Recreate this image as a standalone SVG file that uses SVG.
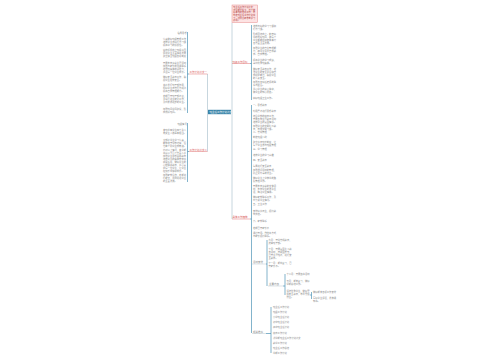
<svg xmlns="http://www.w3.org/2000/svg" width="500" height="360" viewBox="0 0 500 360">
<style>
text{font-family:"Noto Sans CJK SC","Noto Sans",sans-serif;}
.t{font-size:2.3px;fill:#8a8a8a;}
.lb{font-size:2.5px;fill:#d85a5a;}
.sl{font-size:2.5px;fill:#888;}
.ct{font-size:2.5px;fill:#fff;}
.pk{font-size:2.2px;fill:#b03a3a;}
.c{stroke:#b9ccd6;stroke-width:0.8;fill:none;}
.b{stroke:#4d93b6;stroke-width:0.7;fill:none;}
.ur{stroke:#e07070;stroke-width:0.5;}
.ug{stroke:#aab8c0;stroke-width:0.4;}
</style>
<rect width="500" height="360" fill="#fff"/>
<g id="connectors">
<path class="c" d="M208 112 H207.5 V74 M207.5 112 V151.5"/>
<path class="c" d="M231 112 H232 M232 22.5 V219"/>
<path class="b" d="M189 74 H187.5 M187.5 32 V113"/>
<path class="b" d="M189 151.5 H187.5 M187.5 123 V182"/>
<path class="b" d="M250 63.5 H251.5 M251.5 25 V100"/>
<path class="b" d="M250 219 H251.5 M251.5 105 V333"/>
<path class="b" d="M266 264 H267 M267 240 V286"/>
<path class="b" d="M283 286 H285 M285 274 V295"/>
<path class="b" d="M310 295 H311.5 M311.5 292 V299"/>
<path class="b" d="M266 333.5 H271 M271 307 V353"/>
</g>
<g id="central"><rect x="208" y="109.8" width="23" height="4.4" fill="#3a84a8"/><text class="ct" x="209.5" y="112.9">班主任工作计划范文</text></g>
<g id="left1"><text class="lb" x="189.5" y="73.3">工作计划范文一</text><line class="ur" x1="189" y1="74" x2="207.5" y2="74"/></g>
<g id="left2"><text class="lb" x="189.5" y="150.8">工作计划范文二</text><line class="ur" x1="189" y1="151.5" x2="207.5" y2="151.5"/></g>
<g id="right1"><text class="lb" x="232.5" y="62.8">班级工作目标</text><line class="ur" x1="232" y1="63.5" x2="250" y2="63.5"/></g>
<g id="right2"><text class="lb" x="232.5" y="218.3">具体工作措施</text><line class="ur" x1="232" y1="219" x2="250" y2="219"/></g>
<g id="pink"><rect x="232" y="5" width="25.5" height="17.5" fill="#fde3e3" stroke="#e58a8a" stroke-width="0.5"/>
<text class="pk" x="233.3" y="7.9"><tspan x="233.3">班主任工作计划范文：</tspan><tspan x="233.3" dy="2.7">新学期开始了，为了做</tspan><tspan x="233.3" dy="2.7">好本班的各项工作，特</tspan><tspan x="233.3" dy="2.7">制定班主任工作计划如</tspan><tspan x="233.3" dy="2.7">下，仅供大家参考学习</tspan><tspan x="233.3" dy="2.7">使用。</tspan></text></g>
<g id="l1-0"><text class="t" x="177.5" y="33.5">指导思想</text></g>
<g id="l1-1"><text class="t" x="163" y="40"><tspan x="163">认真做好班级管理工作</tspan><tspan x="163" dy="3">培养学生良好行为习惯</tspan><tspan x="163" dy="3">提高学习的积极性。</tspan></text></g>
<g id="l1-2"><text class="t" x="163" y="50.5"><tspan x="163">营造积极向上班级氛围</tspan><tspan x="163" dy="3">促进学生全面健康发展</tspan><tspan x="163" dy="3">建立健全班级各项制度</tspan></text></g>
<g id="l1-3"><text class="t" x="163" y="63.5"><tspan x="163">开展丰富多彩主题活动</tspan><tspan x="163" dy="3">加强与家长的沟通联系</tspan><tspan x="163" dy="3">增强班集体的凝聚力，</tspan><tspan x="163" dy="3">关注每一位学生成长。</tspan></text></g>
<g id="l1-4"><text class="t" x="163" y="78"><tspan x="163">做好安全教育工作，确</tspan><tspan x="163" dy="3">保学生在校安全。</tspan></text></g>
<g id="l1-5"><text class="t" x="163" y="86"><tspan x="163">充分发挥班干部作用，</tspan><tspan x="163" dy="3">抓好学生日常行为规范</tspan><tspan x="163" dy="3">提高自我管理能力。</tspan></text></g>
<g id="l1-6"><text class="t" x="163" y="97"><tspan x="163">定期召开班干部会议，</tspan><tspan x="163" dy="3">重视后进生转化工作，</tspan><tspan x="163" dy="3">及时表扬进步的学生。</tspan></text></g>
<g id="l1-7"><text class="t" x="163" y="109.5"><tspan x="163">加强班风学风建设，形</tspan><tspan x="163" dy="3">成良好班风。</tspan></text></g>
<g id="l2-0"><text class="t" x="177.5" y="125">班级情况</text></g>
<g id="l2-1"><text class="t" x="163" y="131"><tspan x="163">本班共有学生四十余人</tspan><tspan x="163" dy="3">男女生人数基本相当。</tspan></text></g>
<g id="l2-2"><text class="t" x="163" y="140.5"><tspan x="163">大部分学生学习认真，</tspan><tspan x="163" dy="3">能够遵守学校纪律，但</tspan><tspan x="163" dy="3">也有个别学生较散漫。</tspan></text></g>
<g id="l2-3"><text class="t" x="163" y="151"><tspan x="163">针对以上情况，本学期</tspan><tspan x="163" dy="3">将从以下几个方面入手</tspan><tspan x="163" dy="3">加强学生思想品德教育</tspan><tspan x="163" dy="3">培养学生的集体荣誉感</tspan><tspan x="163" dy="3">和责任感，做好学生的</tspan><tspan x="163" dy="3">心理健康教育，关心爱</tspan><tspan x="163" dy="3">护每一位学生，让学生</tspan><tspan x="163" dy="3">在快乐中健康成长。</tspan></text></g>
<g id="l2-4"><text class="t" x="163" y="176"><tspan x="163">加强家校合作，定期进</tspan><tspan x="163" dy="3">行家访，共同促进学生</tspan><tspan x="163" dy="3">的全面发展。</tspan></text></g>
<g id="r1-0"><text class="t" x="253" y="27"><tspan x="253">培养良好的学习习惯和</tspan><tspan x="253" dy="3">行为习惯。</tspan></text></g>
<g id="r1-1"><text class="t" x="253" y="35"><tspan x="253">形成团结向上、勤奋好</tspan><tspan x="253" dy="3">学的良好班风，使每个</tspan><tspan x="253" dy="3">学生都能在德智体美劳</tspan><tspan x="253" dy="3">各方面全面发展。</tspan></text></g>
<g id="r1-2"><text class="t" x="253" y="49"><tspan x="253">加强学生的自主管理能</tspan><tspan x="253" dy="3">力，使学生学会自我教</tspan><tspan x="253" dy="3">育、自我管理。</tspan></text></g>
<g id="r1-3"><text class="t" x="253" y="61"><tspan x="253">提高学生的学习成绩，</tspan><tspan x="253" dy="3">争创优秀班集体。</tspan></text></g>
<g id="r1-4"><text class="t" x="253" y="70"><tspan x="253">做好安全教育工作，增</tspan><tspan x="253" dy="3">强学生的安全意识和自</tspan><tspan x="253" dy="3">我保护能力，确保学生</tspan><tspan x="253" dy="3">的人身安全。</tspan></text></g>
<g id="r1-5"><text class="t" x="253" y="83"><tspan x="253">加强与各科任老师的联</tspan><tspan x="253" dy="3">系与配合。</tspan></text></g>
<g id="r1-6"><text class="t" x="253" y="90"><tspan x="253">关心学生的身心健康，</tspan><tspan x="253" dy="3">做学生的知心朋友。</tspan></text></g>
<g id="r1-7"><text class="t" x="253" y="99">搞好班级卫生工作。</text></g>
<g id="r2-0"><text class="t" x="253" y="106">一、思想教育</text></g>
<g id="r2-1"><text class="t" x="253" y="112">利用晨会进行思想教育</text></g>
<g id="r2-2"><text class="t" x="253" y="117"><tspan x="253">结合学校的德育工作，</tspan><tspan x="253" dy="3">开展各种主题教育活动</tspan><tspan x="253" dy="3">培养学生的爱国情感。</tspan></text></g>
<g id="r2-3"><text class="t" x="253" y="126.5"><tspan x="253">加强学生的文明礼仪教</tspan><tspan x="253" dy="3">育，养成文明习惯。</tspan></text></g>
<g id="r2-4"><text class="t" x="253" y="132.5">二、常规管理</text></g>
<g id="r2-5"><text class="t" x="253" y="138">制定班级公约</text></g>
<g id="r2-6"><text class="t" x="253" y="143"><tspan x="253">建立值日班长制度，让</tspan><tspan x="253" dy="3">每个学生参与班级管理</tspan></text></g>
<g id="r2-7"><text class="t" x="253" y="150">三、学习管理</text></g>
<g id="r2-8"><text class="t" x="253" y="156">培养学生的学习兴趣</text></g>
<g id="r2-9"><text class="t" x="253" y="161">四、安全教育</text></g>
<g id="r2-10"><text class="t" x="253" y="167">每周进行安全教育</text></g>
<g id="r2-11"><text class="t" x="253" y="171"><tspan x="253">加强课间活动的管理，</tspan><tspan x="253" dy="3">防止意外事故发生。</tspan></text></g>
<g id="r2-12"><text class="t" x="253" y="179"><tspan x="253">做好学生上学放学的路</tspan><tspan x="253" dy="3">队管理工作。</tspan></text></g>
<g id="r2-13"><text class="t" x="253" y="187"><tspan x="253">开展丰富多彩的文体活</tspan><tspan x="253" dy="3">动，丰富学生的课余生</tspan><tspan x="253" dy="3">活，陶冶学生情操。</tspan></text></g>
<g id="r2-14"><text class="t" x="253" y="197.5"><tspan x="253">做好家校联系工作，及</tspan><tspan x="253" dy="3">时了解学生情况。</tspan></text></g>
<g id="r2-15"><text class="t" x="253" y="205">五、卫生工作</text></g>
<g id="r2-16"><text class="t" x="253" y="212"><tspan x="253">安排好值日生，保持教</tspan><tspan x="253" dy="3">室清洁。</tspan></text></g>
<g id="r2-17"><text class="t" x="253" y="222">六、家校联系</text></g>
<g id="r2-18"><text class="t" x="253" y="229">定期召开家长会</text></g>
<g id="r2-19"><text class="t" x="253" y="234"><tspan x="253">通过电话、微信等方式</tspan><tspan x="253" dy="3">与家长保持联系。</tspan></text></g>
<g id="s1"><text class="sl" x="253" y="263.3">活动安排</text><line class="ug" x1="252" y1="264" x2="266" y2="264"/></g>
<g id="s1-0"><text class="t" x="268.5" y="241"><tspan x="268.5">九月：开学常规教育，</tspan><tspan x="268.5" dy="3">选举班干部。</tspan></text></g>
<g id="s1-1"><text class="t" x="268.5" y="250"><tspan x="268.5">十月：开展爱国主义教</tspan><tspan x="268.5" dy="3">育活动，庆祝国庆节，</tspan><tspan x="268.5" dy="3">召开主题班会，进行安</tspan><tspan x="268.5" dy="3">全教育。</tspan></text></g>
<g id="s1-2"><text class="t" x="268.5" y="264"><tspan x="268.5">十一月：期中复习，召</tspan><tspan x="268.5" dy="3">开家长会。</tspan></text></g>
<g id="s2"><text class="sl" x="269" y="285.3">主要内容</text><line class="ug" x1="268" y1="286" x2="283" y2="286"/></g>
<g id="s2-0"><text class="t" x="286.5" y="275">十二月：开展读书活动</text></g>
<g id="s2-1"><text class="t" x="286.5" y="281.5"><tspan x="286.5">元月：期末复习，做好</tspan><tspan x="286.5" dy="3">学期总结工作。</tspan></text></g>
<g id="s3"><text class="t" x="286.5" y="291.5"><tspan x="286.5">评选优秀学生，做好寒</tspan><tspan x="286.5" dy="3">假安全教育，布置寒假</tspan><tspan x="286.5" dy="3">作业。</tspan></text></g>
<g id="s3-0"><text class="t" x="313" y="293">做好期末各项工作安排</text></g>
<g id="s3-1"><text class="t" x="313" y="298.5"><tspan x="313">写好学生评语，发放通</tspan><tspan x="313" dy="3">知书。</tspan></text></g>
<g id="s4"><text class="sl" x="253" y="332.8">相关推荐</text><line class="ug" x1="252" y1="333.5" x2="266" y2="333.5"/></g>
<g id="s4-items">
<text class="t" x="273" y="307.5">班主任工作计划</text>
<text class="t" x="273" y="312.7">班级工作计划</text>
<text class="t" x="273" y="317.9">小学班主任计划</text>
<text class="t" x="273" y="323.1">初中班主任计划</text>
<text class="t" x="273" y="328.3">高中班主任计划</text>
<text class="t" x="273" y="333.5">德育工作计划</text>
<text class="t" x="273" y="338.7">新学期班主任工作计划范文</text>
<text class="t" x="273" y="343.9">教学工作计划</text>
<text class="t" x="273" y="349.1">班主任工作总结</text>
<text class="t" x="273" y="354.3">学期工作计划</text>
</g>
</svg>
